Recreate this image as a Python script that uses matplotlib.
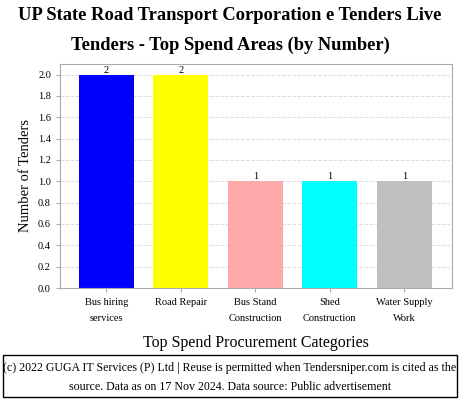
import matplotlib
matplotlib.use("Agg")
import matplotlib.pyplot as plt
from matplotlib.patches import Rectangle

categories = ["Bus hiring\nservices", "Road Repair", "Bus Stand\nConstruction",
              "Shed\nConstruction", "Water Supply\nWork"]
counts = [2, 2, 1, 1, 1]
colors = ["#0000ff", "#ffff00", "#ffaaaa", "#00ffff", "#c0c0c0"]
yticks = [0.0, 0.2, 0.4, 0.6, 0.8, 1.0, 1.2, 1.4, 1.6, 1.8, 2.0]

plt.rcParams["font.family"] = ["Liberation Serif", "DejaVu Serif"]

fig = plt.figure(figsize=(4.6, 4.0), dpi=100)
ax = fig.add_axes([60 / 460, 1 - 288 / 400, 392 / 460, 224 / 400])

x = list(range(len(categories)))
bars = ax.bar(x, counts, width=0.74, color=colors, zorder=2)
for xi, v in zip(x, counts):
    ax.text(xi, v, str(v), ha="center", va="bottom", fontsize=7.5)

ax.set_xlim(-0.62, 4.64)
ax.set_ylim(0, 2.1)
ax.set_yticks(yticks)
ax.set_yticklabels([f"{t:.1f}" for t in yticks], fontsize=7.5)
ax.set_xticks(x)
ax.set_xticklabels(categories, fontsize=7.5, linespacing=2.0)
ax.yaxis.grid(True, linestyle="--", color="#dddddd", linewidth=0.7, zorder=0)
for s in ax.spines.values():
    s.set_color("#aaaaaa")
ax.tick_params(axis="both", color="#aaaaaa", length=3)
ax.tick_params(axis="x", pad=4)

ax.set_ylabel("Number of Tenders", fontsize=10.5)
ax.set_xlabel("Top Spend Procurement Categories", fontsize=11.5, labelpad=9)

fig.text(0.5, 1 - 16 / 400, "UP State Road Transport Corporation e Tenders Live",
         ha="center", va="center", fontsize=13.3, fontweight="bold")
fig.text(0.5, 1 - 45 / 400, "Tenders - Top Spend Areas (by Number)",
         ha="center", va="center", fontsize=13.3, fontweight="bold")

fig.patches.append(Rectangle((3 / 460, 3 / 400), 454 / 460, 42 / 400,
                             transform=fig.transFigure, fill=False,
                             edgecolor="black", linewidth=1))
fig.text(0.5, 1 - 368 / 400,
         "(c) 2022 GUGA IT Services (P) Ltd | Reuse is permitted when Tendersniper.com is cited as the",
         ha="center", va="center", fontsize=8.6)
fig.text(0.5, 1 - 387 / 400,
         "source. Data as on 17 Nov 2024. Data source: Public advertisement",
         ha="center", va="center", fontsize=8.6)

fig.savefig("out.png", dpi=100)
